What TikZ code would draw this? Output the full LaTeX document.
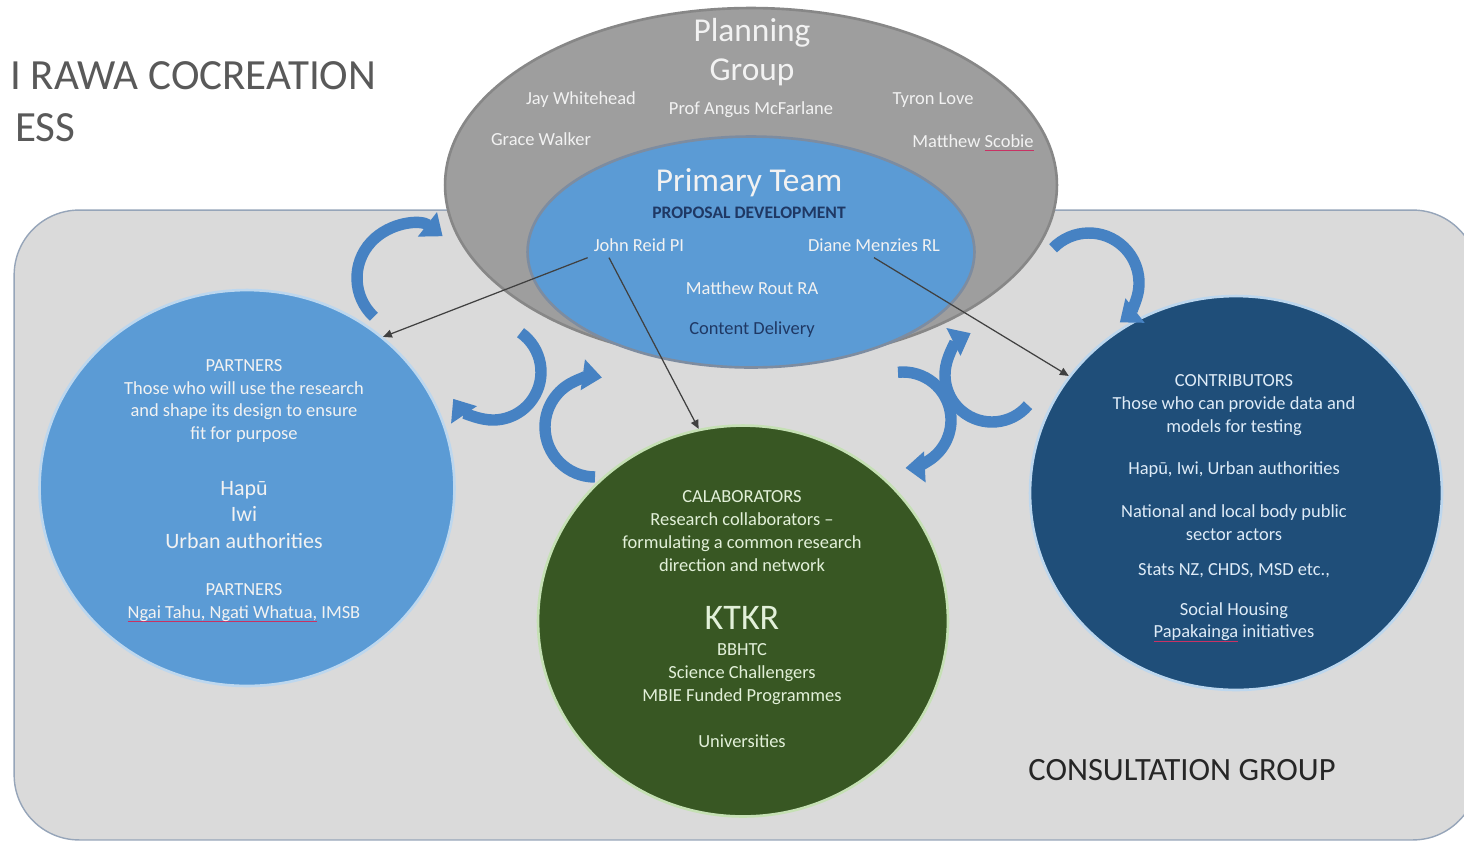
\documentclass[tikz,border=0pt]{standalone}
\usepackage{fontspec}
\setmainfont{Carlito}
\usetikzlibrary{arrows.meta, shapes.geometric, positioning}

\definecolor{bgfill}{RGB}{218,218,218}
\definecolor{bgline}{RGB}{150,165,185}
\definecolor{pgrey}{RGB}{158,158,158}
\definecolor{pgreyline}{RGB}{135,135,135}
\definecolor{teamblue}{RGB}{91,155,213}
\definecolor{teamline}{RGB}{125,140,160}
\definecolor{edgeblue}{RGB}{189,215,238}
\definecolor{collabgreen}{RGB}{56,87,35}
\definecolor{edgegreen}{RGB}{197,224,180}
\definecolor{contribblue}{RGB}{31,78,121}
\definecolor{swirlblue}{RGB}{70,130,195}
\definecolor{linkgrey}{RGB}{64,64,64}
\definecolor{navy}{RGB}{31,56,100}
\definecolor{titlegrey}{RGB}{89,89,89}
\definecolor{softwhite}{RGB}{242,242,242}
\definecolor{greentext}{RGB}{226,240,217}
\definecolor{bluetext}{RGB}{222,235,247}
\definecolor{spellred}{RGB}{200,50,100}

\newcommand{\spell}[1]{\setbox0\hbox{#1}\rlap{\color{spellred}\rule[-2.2pt]{\wd0}{0.7pt}}\box0\relax}

\begin{document}
\begin{tikzpicture}[x=0.02cm, y=0.02cm,
  blob/.style={ellipse, inner sep=0pt, line width=1.5pt},
  txt/.style={align=center, font=\fontsize{10.5}{13}\selectfont},
  bigtxt/.style={align=center, font=\fontsize{12.5}{15}\selectfont},
  link/.style={draw=linkgrey, line width=0.7pt, -{Triangle[length=5pt, width=4.5pt]}},
  swirl/.style={draw=swirlblue, line width=6.5pt, -{Triangle[length=11pt, width=17pt]}}]
\useasboundingbox[fill=white] (0,0) rectangle (1464,-840);

% consultation group backdrop
\node[draw=bgline, fill=bgfill, line width=0.8pt, rounded corners=1.3cm,
      minimum width=29.28cm, minimum height=12.6cm, inner sep=0pt] (B) at (746,-525) {};
\node[font=\fontsize{18.5}{22}\selectfont, text={rgb,255:red,38;green,38;blue,38}] (CG) at (1182,-770) {CONSULTATION GROUP};

% title
\node[anchor=base west, font=\fontsize{24.5}{29}\selectfont, text=titlegrey, inner sep=0pt] (H1) at (10,-89) {I RAWA COCREATION};
\node[anchor=base west, font=\fontsize{24.5}{29}\selectfont, text=titlegrey, inner sep=0pt] (H2) at (15,-141) {ESS};

% the groups
\node[blob, fill=pgrey, draw=pgreyline, minimum width=12.24cm, minimum height=7.08cm] (G) at (751,-185) {};
\node[blob, fill=teamblue, draw=teamline, minimum width=8.94cm, minimum height=4.62cm] (T) at (751,-252) {};
\node[blob, fill=teamblue, draw=edgeblue, minimum width=8.3cm, minimum height=7.92cm] (P) at (247,-488) {};
\node[blob, fill=collabgreen, draw=edgegreen, minimum width=8.2cm, minimum height=7.82cm] (L) at (743,-621) {};
\node[blob, fill=contribblue, draw=edgeblue, minimum width=8.24cm, minimum height=7.88cm] (R) at (1236,-493) {};

% planning group
\node[align=center, font=\fontsize{19}{22.3}\selectfont, text=softwhite] (PG) at (752,-52) {Planning\\Group};
\node[txt, text=softwhite] (N1) at (581,-100) {Jay Whitehead};
\node[txt, text=softwhite] (N2) at (751,-110) {Prof Angus McFarlane};
\node[txt, text=softwhite] (N3) at (933,-100) {Tyron Love};
\node[txt, text=softwhite] (N4) at (541,-139) {Grace Walker};
\node[txt, text=softwhite] (N5) at (973,-143) {Matthew \spell{Scobie}};

% primary team
\node[font=\fontsize{19}{22}\selectfont, text=softwhite] (PT) at (749,-183) {Primary Team};
\node[font=\fontsize{10}{12}\selectfont\bfseries, text=navy] (PD) at (749,-213) {PROPOSAL DEVELOPMENT};
\node[txt, text=softwhite] (J) at (639,-245) {John Reid PI};
\node[txt, text=softwhite] (D) at (874,-245) {Diane Menzies RL};
\node[txt, text=softwhite] (M) at (752,-288) {Matthew Rout RA};
\node[txt, text=navy] (CD) at (752,-330) {Content Delivery};

% partners
\node[txt, text=softwhite] (P1) at (244,-401) {PARTNERS\\Those who will use the research\\and shape its design to ensure\\fit for purpose};
\node[bigtxt, text=softwhite] (P2) at (244,-515) {Hapū\\Iwi\\Urban authorities};
\node[txt, text=softwhite] (P3) at (244,-603) {PARTNERS\\\spell{Ngai Tahu, Ngati Whatua,} IMSB};

% collaborators
\node[txt, text=greentext] (L1) at (742,-531) {CALABORATORS\\Research collaborators --\\formulating a common research\\direction and network};
\node[font=\fontsize{20.5}{24}\selectfont, text=greentext] (L2) at (742,-618) {KTKR};
\node[txt, text=greentext] (L3) at (742,-674) {BBHTC\\Science Challengers\\MBIE Funded Programmes};
\node[txt, text=greentext] (L4) at (742,-741) {Universities};

% contributors
\node[txt, text=bluetext] (R1) at (1234,-405) {CONTRIBUTORS\\Those who can provide data and\\models for testing};
\node[txt, text=bluetext] (R2) at (1234,-470) {Hapū, Iwi, Urban authorities};
\node[txt, text=bluetext] (R3) at (1234,-523) {National and local body public\\sector actors};
\node[txt, text=bluetext] (R4) at (1234,-571) {Stats NZ, CHDS, MSD etc.,};
\node[txt, text=bluetext] (R5) at (1234,-622) {Social Housing\\\spell{Papakainga} initiatives};

% links from the primary team
\draw[link] (J.south west) -- (P.48);
\draw[link] ([xshift=-0.6cm]J.south) -- (L.103);
\draw[link] (D.south) -- (R.145);

% feedback loops
\draw[swirl] (410,-278) ++(227:53) arc (227:52:53);
\draw[swirl] (493,-372) ++(55:48) arc (55:-146:48);
\draw[swirl] (595,-427) ++(270:50) arc (270:82:50);
\draw[swirl] (1089,-283) ++(136:50) arc (136:-52:50);
\draw[swirl] (992,-375) ++(-40:47) arc (-40:-243:47);
\draw[swirl] (903,-420) ++(96:48) arc (96:-87:48);
\end{tikzpicture}
\end{document}
